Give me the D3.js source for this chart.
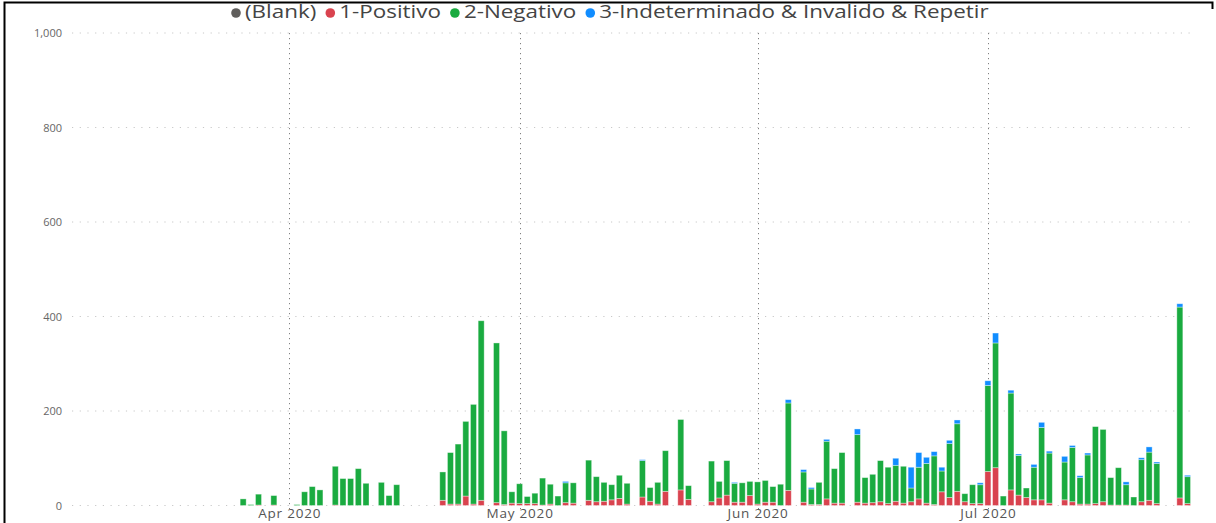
<!DOCTYPE html>
<html>
<head>
<meta charset="utf-8">
<script src="https://cdn.jsdelivr.net/npm/d3@7"></script>
<style>
    body { margin: 0; background: #fff; }
    svg { display: block; font-family: "Segoe UI", "Open Sans", "Noto Sans", sans-serif; }
</style>
</head>
<body>
<svg id="chart" width="1216" height="523"></svg>
<script>
const seriesNames = ["(Blank)", "1-Positivo", "2-Negativo", "3-Indeterminado & Invalido & Repetir"];
const seriesColors = ["#605E5C", "#D9434F", "#1AAB40", "#118DFF"];

const dates = [
    "2020-03-26", "2020-03-27", "2020-03-28", "2020-03-30", "2020-04-02", "2020-04-03", "2020-04-04", "2020-04-05",
    "2020-04-07", "2020-04-08", "2020-04-09", "2020-04-10", "2020-04-11", "2020-04-13", "2020-04-14", "2020-04-15",
    "2020-04-21", "2020-04-22", "2020-04-23", "2020-04-24", "2020-04-25", "2020-04-26", "2020-04-28", "2020-04-29",
    "2020-04-30", "2020-05-01", "2020-05-02", "2020-05-03", "2020-05-04", "2020-05-05", "2020-05-06", "2020-05-07",
    "2020-05-08", "2020-05-10", "2020-05-11", "2020-05-12", "2020-05-13", "2020-05-14", "2020-05-15", "2020-05-17",
    "2020-05-18", "2020-05-19", "2020-05-20", "2020-05-22", "2020-05-23", "2020-05-26", "2020-05-27", "2020-05-28",
    "2020-05-29", "2020-05-30", "2020-05-31", "2020-06-01", "2020-06-02", "2020-06-03", "2020-06-04", "2020-06-05",
    "2020-06-07", "2020-06-08", "2020-06-09", "2020-06-10", "2020-06-11", "2020-06-12", "2020-06-14", "2020-06-15",
    "2020-06-16", "2020-06-17", "2020-06-18", "2020-06-19", "2020-06-20", "2020-06-21", "2020-06-22", "2020-06-23",
    "2020-06-24", "2020-06-25", "2020-06-26", "2020-06-27", "2020-06-28", "2020-06-29", "2020-06-30", "2020-07-01",
    "2020-07-02", "2020-07-03", "2020-07-04", "2020-07-05", "2020-07-06", "2020-07-07", "2020-07-08", "2020-07-09",
    "2020-07-11", "2020-07-12", "2020-07-13", "2020-07-14", "2020-07-15", "2020-07-16", "2020-07-17", "2020-07-18",
    "2020-07-19", "2020-07-20", "2020-07-21", "2020-07-22", "2020-07-23", "2020-07-26", "2020-07-27"
];

const blank = dates.map(() => 0);

const positivo = [
    0, 0, 1, 1, 0, 0, 0, 0,
    1, 0, 0, 0, 0, 0, 0, 0,
    11, 3, 3, 20, 3, 11, 6, 2,
    5, 4, 4, 4, 1, 3, 0, 6,
    5, 11, 8, 9, 12, 15, 3, 18,
    9, 3, 30, 33, 13, 8, 16, 22,
    7, 7, 21, 3, 7, 7, 0, 32,
    7, 2, 2, 14, 5, 5, 7, 5,
    6, 8, 4, 9, 5, 8, 14, 5,
    2, 29, 17, 30, 8, 4, 4, 72,
    80, 0, 33, 22, 17, 12, 12, 5,
    12, 8, 3, 3, 4, 8, 1, 1,
    1, 0, 8, 11, 4, 16, 4
];

const negativo = [
    14, 2, 23, 20, 2, 29, 40, 33,
    82, 57, 57, 78, 47, 49, 21, 44,
    60, 109, 127, 158, 211, 380, 338, 156,
    24, 42, 15, 22, 57, 42, 20, 42,
    43, 85, 53, 40, 32, 49, 44, 77,
    29, 46, 86, 149, 29, 86, 35, 73,
    40, 41, 30, 47, 46, 33, 45, 185,
    64, 33, 47, 122, 73, 107, 143, 54,
    60, 87, 77, 76, 78, 29, 67, 84,
    103, 44, 114, 143, 17, 40, 40, 182,
    264, 20, 205, 84, 20, 69, 153, 106,
    80, 115, 56, 104, 163, 153, 58, 79,
    43, 18, 89, 102, 85, 404, 57
];

const indeterminado = [
    0, 0, 0, 0, 0, 0, 0, 0,
    0, 0, 0, 0, 0, 0, 0, 0,
    0, 0, 0, 0, 0, 0, 0, 0,
    0, 0, 0, 0, 0, 0, 0, 3,
    0, 0, 0, 0, 0, 0, 0, 2,
    0, 0, 0, 0, 0, 0, 0, 0,
    2, 0, 0, 0, 0, 0, 0, 7,
    5, 3, 0, 4, 0, 0, 12, 0,
    0, 0, 0, 15, 0, 44, 31, 13,
    9, 8, 7, 8, 0, 0, 4, 10,
    21, 0, 6, 3, 0, 6, 11, 4,
    12, 4, 4, 4, 0, 0, 0, 0,
    6, 0, 4, 11, 3, 7, 3
];

const yTicks = [0, 200, 400, 600, 800, 1000];

const width = 1216, height = 523;
const plot = {left: 72, right: 1192, top: 33, bottom: 505.5};

const svg = d3.select("#chart");
const parseDay = d3.timeParse("%Y-%m-%d");

const rows = dates.map((d, i) => ({
    date: parseDay(d),
    blank: blank[i],
    positivo: positivo[i],
    negativo: negativo[i],
    indeterminado: indeterminado[i]
}));

const keys = ["blank", "positivo", "negativo", "indeterminado"];
const stacked = d3.stack().keys(keys)(rows);

const x = d3.scaleTime()
    .domain([new Date(2020, 2, 3, 17), new Date(2020, 6, 27, 14)])
    .range([plot.left, plot.right]);

const y = d3.scaleLinear()
    .domain([0, 1000])
    .range([plot.bottom, plot.top]);

// horizontal gridlines
svg.append("g")
    .selectAll("line")
    .data(yTicks)
    .join("line")
    .attr("x1", plot.left)
    .attr("x2", plot.right)
    .attr("y1", d => y(d))
    .attr("y2", d => y(d))
    .attr("stroke", "#c8c8c8")
    .attr("stroke-width", 1)
    .attr("stroke-dasharray", "1.2,6.5");

// month gridlines
const months = d3.timeMonth.range(new Date(2020, 3, 1), new Date(2020, 6, 2));
svg.append("g")
    .selectAll("line")
    .data(months)
    .join("line")
    .attr("x1", d => Math.round(x(d)) + 0.5)
    .attr("x2", d => Math.round(x(d)) + 0.5)
    .attr("y1", plot.top)
    .attr("y2", plot.bottom + 4)
    .attr("stroke", "#808080")
    .attr("stroke-width", 1)
    .attr("stroke-dasharray", "1.2,3.8");

// y axis
const yAxis = svg.append("g")
    .attr("transform", `translate(${plot.left},0)`)
    .call(d3.axisLeft(y).tickValues(yTicks).tickFormat(d3.format(",")).tickSize(0).tickPadding(10));
yAxis.select(".domain").remove();
yAxis.selectAll("text")
    .attr("fill", "#666")
    .style("font-size", "11px")
    .style("font-family", "'Open Sans', 'Noto Sans', sans-serif");

// x axis labels
const xAxis = svg.append("g")
    .attr("transform", `translate(0,${plot.bottom})`)
    .call(d3.axisBottom(x).tickValues(months).tickFormat(d3.timeFormat("%b %Y")).tickSize(0).tickPadding(3));
xAxis.select(".domain").remove();
xAxis.selectAll("text")
    .attr("fill", "#555")
    .style("font-size", "13.5px")
    .style("letter-spacing", "0.8px")
    .style("font-family", "'Open Sans', 'Noto Sans', sans-serif");

// bars
const barWidth = 6;
svg.append("g")
    .selectAll("g")
    .data(stacked)
    .join("g")
    .attr("fill", (d, i) => seriesColors[i])
    .selectAll("rect")
    .data(d => d.filter(p => p[1] > p[0]))
    .join("rect")
    .attr("x", d => x(d.data.date) - barWidth / 2)
    .attr("width", barWidth)
    .attr("y", d => y(d[1]))
    .attr("height", d => y(d[0]) - y(d[1]))
    .attr("stroke", "rgba(255,255,255,0.45)")
    .attr("stroke-width", 0.8);

// legend (the reference text is drawn a bit wider than the font, so stretch it)
const stretch = 1.28;
const legend = svg.append("g").attr("transform", "translate(0,13)");
let lx = 231;
seriesNames.forEach((name, i) => {
    legend.append("circle")
        .attr("cx", lx + 5)
        .attr("cy", 0)
        .attr("r", 4.8)
        .attr("fill", seriesColors[i]);
    const t = legend.append("text")
        .attr("x", lx + 14)
        .attr("y", 0)
        .attr("dominant-baseline", "middle")
        .attr("fill", "#444")
        .style("font-size", "17.5px")
        .text(name);
    const w = t.node().getComputedTextLength() * stretch;
    t.attr("textLength", w).attr("lengthAdjust", "spacingAndGlyphs");
    lx += 14 + w + 9;
});

// frame
svg.append("path")
    .attr("d", "M4.5,523V2.5H1212.5V9")
    .attr("fill", "none")
    .attr("stroke", "#000")
    .attr("stroke-width", 2);
</script>
</body>
</html>
